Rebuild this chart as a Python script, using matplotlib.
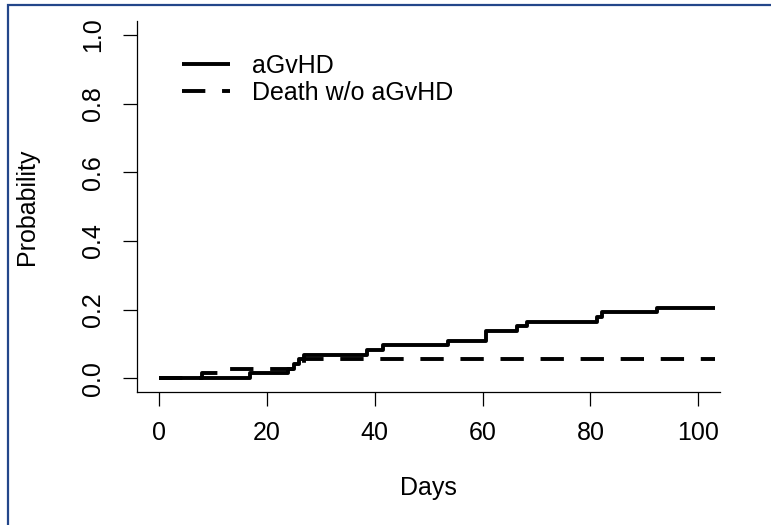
import numpy as np
import matplotlib
matplotlib.use('Agg')
import matplotlib.pyplot as plt

plt.rcParams['font.family'] = ['Liberation Sans', 'DejaVu Sans']

# cumulative incidence (step times in days)
agvhd_days = [0, 17, 24, 25, 26, 27, 38.6, 41.6, 53.7, 60.6, 66.4, 68.3, 81.2, 82.2, 92.3, 103]
agvhd_prob = [0.0, 0.014, 0.027, 0.041, 0.055, 0.068, 0.082, 0.096, 0.110, 0.137,
              0.151, 0.164, 0.178, 0.192, 0.206, 0.206]
death_days = [0, 8, 11, 25, 27, 103]
death_prob = [0.0, 0.014, 0.027, 0.041, 0.055, 0.055]

x_ticks = [0, 20, 40, 60, 80, 100]
y_ticks = [0.0, 0.2, 0.4, 0.6, 0.8, 1.0]

fig = plt.figure(figsize=(7.71, 5.25), dpi=100)
ax = fig.add_axes([0.1777, 0.2533, 0.7562, 0.7061])

ax.step(agvhd_days, agvhd_prob, where='post', color='black', lw=2.8,
        solid_capstyle='butt', label='aGvHD')
ax.step(death_days, death_prob, where='post', color='black', lw=2.8,
        dashes=(6, 4.3), label='Death w/o aGvHD')

ax.set_xlim(-4, 104)
ax.set_ylim(-0.04, 1.04)
ax.set_xticks(x_ticks)
ax.set_xticklabels([str(v) for v in x_ticks])
ax.set_yticks(y_ticks)
ax.set_yticklabels(['%.1f' % v for v in y_ticks], rotation=90, va='center')

for s in ['top', 'right']:
    ax.spines[s].set_visible(False)
for s in ['left', 'bottom']:
    ax.spines[s].set_linewidth(0.9)
ax.tick_params(axis='both', length=9.8, width=0.9, labelsize=18, color='black')
ax.tick_params(axis='x', pad=11)
ax.tick_params(axis='y', pad=13)

ax.set_xlabel('Days', fontsize=18, va='center')
ax.set_ylabel('Probability', fontsize=18, va='center')
ax.xaxis.set_label_coords(0.5, -0.259)
ax.yaxis.set_label_coords(-0.1887, 0.5)

ax.legend(loc='upper left', bbox_to_anchor=(0.077, 0.913), frameon=False,
          fontsize=18, handlelength=1.92, handletextpad=0.88,
          labelspacing=0.14, borderpad=0, borderaxespad=0)

# dark blue frame round the picture
fig.patches.append(plt.Rectangle((0.011, -0.2), 1.5, 1.1914, transform=fig.transFigure,
                                 fill=False, edgecolor='#23468a', lw=1.6))

fig.savefig('out.png', dpi=100)
